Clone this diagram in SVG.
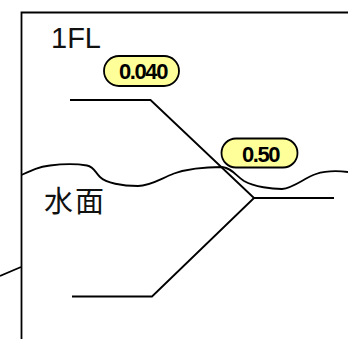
<svg xmlns="http://www.w3.org/2000/svg" width="348" height="339" viewBox="0 0 348 339">
<style>
.l{fill:none;stroke:#000;stroke-width:1.8}
.t{font-family:"Liberation Sans","Noto Sans CJK JP",sans-serif;font-size:29px;fill:#111}
.v{font-family:"Liberation Sans",Arial,sans-serif;font-size:22px;font-weight:bold;fill:#000;text-anchor:middle;letter-spacing:-1.4px}
.b{fill:#ffff99;stroke:#000;stroke-width:1.8}
</style>
<rect width="348" height="339" fill="#fff"/>
<g id="connectors">
<path class="l" d="M348 12.500H21.500V339"/>
<path class="l" d="M0 276L21 267"/>
<path class="l" d="M21.500 175C32 170 38 167 50 165.500C62 164 78 164 87 165.500C94 167 95 172 100 177C106 183 122 186 138 186C150 186 160 179 174 173.500C190 168 210 167 222 167C232 168 236 176 244 181C255 187 272 189 282 189C294 188 304 178 316 174C328 170 340 171 348 172"/>
<path class="l" d="M70 100H150.500L254 198H334"/>
<path class="l" d="M72 296.500H152L254 198"/>
</g>
<g id="label-1fl"><text class="t" x="51" y="48">1FL</text></g>
<g id="label-water"><text class="t" x="44" y="212" font-size="30" letter-spacing="2">水面</text></g>
<g id="badge-0040"><rect class="b" x="104" y="56" width="75" height="30" rx="15"/><text class="v" x="143" y="79">0.040</text></g>
<g id="badge-050"><rect class="b" x="221.500" y="138.500" width="76" height="29" rx="14.500"/><text class="v" x="260.500" y="162">0.50</text></g>
</svg>
